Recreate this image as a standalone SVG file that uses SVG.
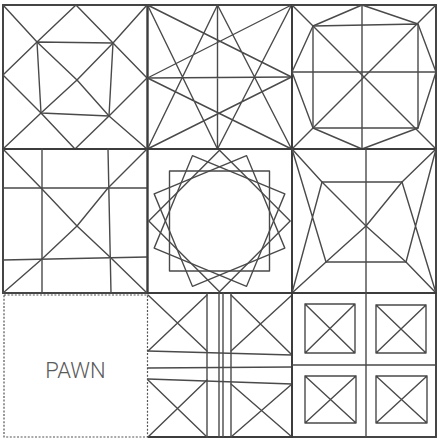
<svg xmlns="http://www.w3.org/2000/svg" width="437" height="439" viewBox="0 0 437 439">
<style>
.ln{fill:none;stroke:#4a4a4a;stroke-width:1.4;stroke-linecap:round;stroke-linejoin:round}
.bd{fill:none;stroke:#3c3c3c;stroke-width:1.9}
.ds{fill:none;stroke:#555;stroke-width:1.2;stroke-dasharray:2 1.6}
.lbl{font-family:Roboto,"Liberation Sans",Arial,sans-serif;font-weight:300;font-size:22px;fill:#5a5a5a}
</style>
<rect width="437" height="439" fill="#fff"/>
<g id="tile1" transform="translate(3,5)">
<rect class="bd" x="0" y="0" width="144.5" height="144"/>
<path class="ln" d="M0,0 L34,37 L74,75 L106,111 L144,144 M144,0 L110,38 L74,75 L38,108 L0,144"/>
<path class="ln" d="M73,0 L34,37 L0,70 L38,108 L72,144 L106,111 L144,73 L110,38 Z"/>
<path class="ln" d="M34,37 L110,38 L106,111 L38,108 Z"/>
</g>
<g id="tile2" transform="translate(147.5,5)">
<rect class="bd" x="0" y="0" width="144.5" height="144"/>
<path class="ln" d="M70,0 L70,144 M0,73 L144,72"/>
<path class="ln" d="M0,0 L144,72 M0,0 L70,144 M144,0 L0,73 M144,0 L70,144 M0,144 L70,0 M0,144 L144,72 M144,144 L70,0 M144,144 L0,73"/>
</g>
<g id="tile3" transform="translate(292,5)">
<rect class="bd" x="0" y="0" width="144" height="144"/>
<path class="ln" d="M70,0 L70,144 M0,67 L144,67"/>
<path class="ln" d="M0,0 L144,144 M144,0 L0,144"/>
<path class="ln" d="M70,0 L21,21 L0,67 L21,123 L70,144 L126,123 L144,67 L126,19 Z"/>
<path class="ln" d="M21,21 L126,19 L126,123 L21,123 Z"/>
</g>
<g id="tile4" transform="translate(3,149)">
<rect class="bd" x="0" y="0" width="144.5" height="144"/>
<path class="ln" d="M39,0 L39,144 M105,0 L108,144 M0,39 L144,39 M0,111 L144,108"/>
<path class="ln" d="M0,0 L39,40 L74,77 L108,109 L144,144 M144,0 L105,39 L74,77 L39,110 L0,144"/>
</g>
<g id="tile5" transform="translate(147.5,149)">
<rect class="bd" x="0" y="0" width="144.5" height="144"/>
<rect class="ln" x="22" y="22" width="100" height="100"/>
<rect class="ln" x="22" y="22" width="100" height="100" transform="rotate(22.5 72 72)"/>
<rect class="ln" x="22" y="22" width="100" height="100" transform="rotate(45 72 72)"/>
<rect class="ln" x="22" y="22" width="100" height="100" transform="rotate(67.5 72 72)"/>
</g>
<g id="tile6" transform="translate(292,149)">
<rect class="bd" x="0" y="0" width="144" height="144"/>
<path class="ln" d="M74,0 L74,144"/>
<path class="ln" d="M0,0 L30,33 L74,77 L114,113 L144,144 M144,0 L110,33 L74,77 L34,113 L0,144"/>
<path class="ln" d="M30,33 L110,33 M34,113 L114,113"/>
<path class="ln" d="M0,0 L34,113 M30,33 L0,144 M144,0 L114,113 M110,33 L144,144"/>
</g>
<g id="tile7">
<rect class="ds" x="4" y="295" width="143.5" height="142"/>
<text class="lbl" x="75.5" y="378" text-anchor="middle">PAWN</text>
</g>
<g id="tile8" transform="translate(148,293)">
<path class="bd" d="M0,0 L144,0 L144,144 L0,144"/>
<path class="ln" d="M59,0 L59,144 M71,0 L71,144 M75,0 L75,144 M83,0 L83,144"/>
<path class="ln" d="M0,58 L144,62 M0,75 L144,74 M0,86 L144,91"/>
<path class="ln" d="M0,2 L59,58 M59,2 L0,58 M83,2 L144,62 M144,2 L83,58 M0,87 L59,144 M59,87 L0,144 M83,91 L144,144 M144,91 L83,144"/>
</g>
<g id="tile9" transform="translate(292,293)">
<rect class="bd" x="0" y="0" width="144" height="144"/>
<path class="ln" d="M74,0 L74,144 M0,72 L144,72"/>
<path class="ln" d="M13,11 L63,11 L63,60 L13,60 Z M13,11 L63,60 M63,11 L13,60"/>
<path class="ln" d="M84,12 L134,12 L134,60 L84,60 Z M84,12 L134,60 M134,12 L84,60"/>
<path class="ln" d="M13,83 L64,83 L64,130 L13,130 Z M13,83 L64,130 M64,83 L13,130"/>
<path class="ln" d="M84,83 L135,83 L135,130 L84,130 Z M84,83 L135,130 M135,83 L84,130"/>
</g>
</svg>
